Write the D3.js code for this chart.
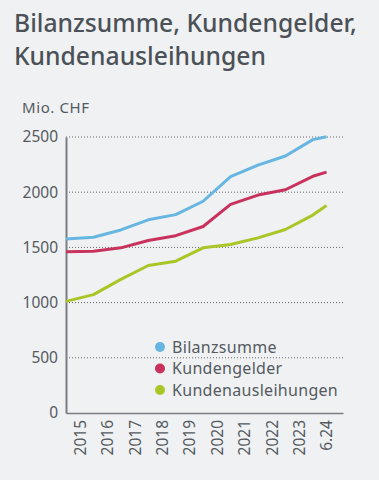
<!DOCTYPE html>
<html>
<head>
<meta charset="utf-8">
<script src="https://cdn.jsdelivr.net/npm/d3@7"></script>
<style>
  body { margin: 0; background: #eff1f3; }
  svg { display: block; font-family: "Noto Sans", Lato, sans-serif; }
</style>
</head>
<body>
<svg id="chart"></svg>
<script>
// chart data
const periods = [2015, 2016, 2017, 2018, 2019, 2020, 2021, 2022, 2023, 2024, 2024.5];
const bilanzsumme = [1576, 1592, 1658, 1750, 1797, 1918, 2142, 2245, 2328, 2476, 2503];
const kundengelder = [1460, 1466, 1496, 1562, 1606, 1689, 1890, 1974, 2022, 2144, 2182];
const kundenausleihungen = [1011, 1072, 1210, 1336, 1375, 1496, 1526, 1586, 1662, 1793, 1880];
const xTickPos = [2015.5, 2016.5, 2017.5, 2018.5, 2019.5, 2020.5, 2021.5, 2022.5, 2023.5, 2024.5];
const xTickLabels = ["2015", "2016", "2017", "2018", "2019", "2020", "2021", "2022", "2023", "6.24"];
const yTicks = [0, 500, 1000, 1500, 2000, 2500];
const seriesNames = ["Bilanzsumme", "Kundengelder", "Kundenausleihungen"];
const seriesColors = ["#67b6e1", "#c8325c", "#a8c626"];

const svg = d3.select("#chart")
    .attr("width", 379)
    .attr("height", 480);

const margin = { top: 137, right: 36, bottom: 67, left: 66 };
const width = 379 - margin.left - margin.right;
const height = 480 - margin.top - margin.bottom;

// title
const title = svg.append("text")
    .attr("x", 14)
    .attr("fill", "#4b5157")
    .style("font-size", "24.7px")
    .style("font-weight", 500);
title.append("tspan").attr("x", 14).attr("y", 32).text("Bilanzsumme, Kundengelder,");
title.append("tspan").attr("x", 14).attr("y", 65).text("Kundenausleihungen");

svg.append("text")
    .attr("x", 22)
    .attr("y", 113)
    .attr("fill", "#555a60")
    .style("font-size", "15px")
    .style("letter-spacing", "0.6px")
    .text("Mio. CHF");

const g = svg.append("g")
    .attr("transform", `translate(${margin.left},${margin.top})`);

// scales
const x = d3.scaleLinear()
    .domain([2015, 2025.1])
    .range([0, width]);
const y = d3.scaleLinear()
    .domain([0, 2500])
    .range([height, 0]);

// gridlines
g.append("g")
    .selectAll("line")
    .data(yTicks.filter(d => d > 0))
    .enter().append("line")
    .attr("x1", 0)
    .attr("x2", width)
    .attr("y1", d => y(d))
    .attr("y2", d => y(d))
    .attr("stroke", "#666")
    .attr("stroke-width", 1)
    .attr("stroke-dasharray", "1,2");

// y axis
const yAxis = g.append("g")
    .call(d3.axisLeft(y).tickValues(yTicks).tickFormat(d3.format("d")).tickSize(0).tickPadding(8));
yAxis.select(".domain").attr("stroke", "#7a7e83").attr("stroke-width", 2);
yAxis.selectAll("text")
    .attr("fill", "#555a60")
    .style("font-size", "15.5px")
    .style("font-family", "'Noto Sans', Lato, sans-serif");

// x axis
const xAxis = g.append("g")
    .attr("transform", `translate(0,${height})`)
    .call(d3.axisBottom(x).tickValues(xTickPos).tickFormat((d, i) => xTickLabels[i]).tickSize(0));
xAxis.select(".domain").attr("stroke", "#7a7e83").attr("stroke-width", 1.5);
xAxis.selectAll("text")
    .attr("fill", "#555a60")
    .style("font-size", "15.5px")
    .style("font-family", "'Noto Sans', Lato, sans-serif")
    .attr("transform", "rotate(-90)")
    .attr("text-anchor", "end")
    .attr("x", -7)
    .attr("y", 0)
    .attr("dy", "0.35em");

// lines
const line = d3.line()
    .x((d, i) => x(periods[i]))
    .y(d => y(d));

[bilanzsumme, kundengelder, kundenausleihungen].forEach((values, i) => {
    g.append("path")
        .datum(values)
        .attr("fill", "none")
        .attr("stroke", seriesColors[i])
        .attr("stroke-width", 3)
        .attr("stroke-linejoin", "round")
        .attr("d", line);
});

// legend
const legend = svg.append("g")
    .attr("transform", "translate(160,347)");
seriesNames.forEach((name, i) => {
    const row = legend.append("g").attr("transform", `translate(0,${i * 21.5})`);
    row.append("circle")
        .attr("r", 5)
        .attr("fill", seriesColors[i]);
    row.append("text")
        .attr("x", 12)
        .attr("dy", "0.35em")
        .attr("fill", "#555a60")
        .style("font-size", "16px")
        .style("letter-spacing", "0.3px")
        .text(name);
});
</script>
</body>
</html>
